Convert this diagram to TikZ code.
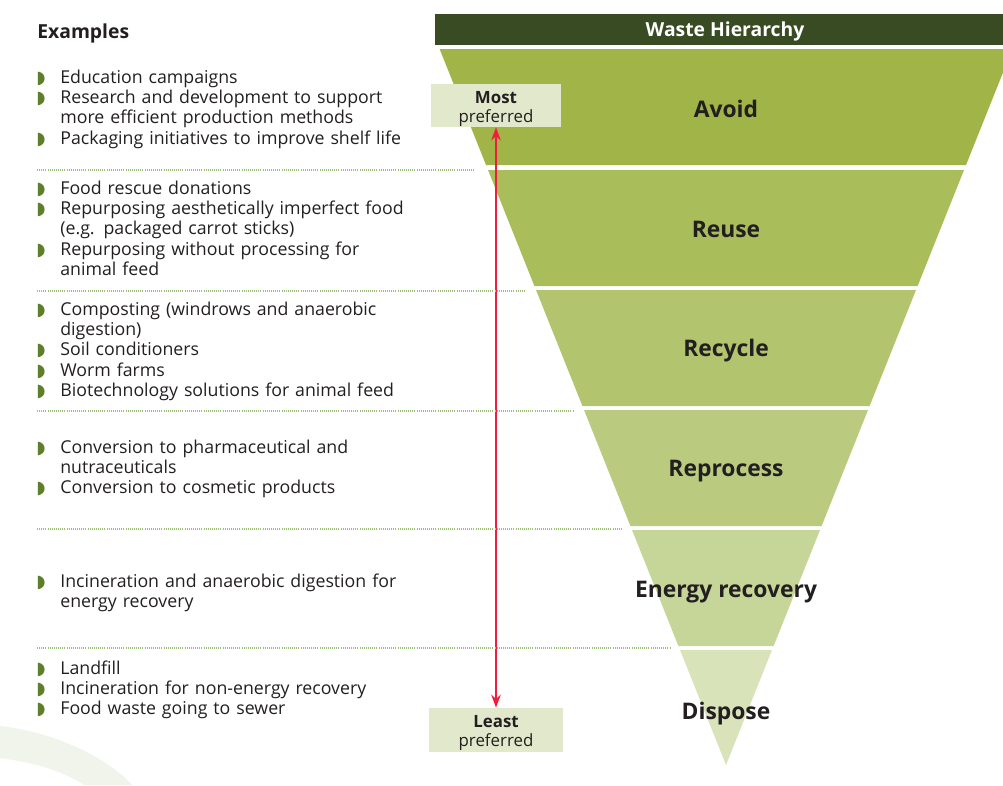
\documentclass[tikz,border=0pt]{standalone}
\usepackage{fontspec}
\setmainfont{Open Sans}
\newfontfamily\symfont{DejaVu Sans}
\usetikzlibrary{arrows.meta}

\definecolor{barc}{HTML}{384B22}
\definecolor{avoidc}{HTML}{A0B447}
\definecolor{reusec}{HTML}{A9BD5B}
\definecolor{recyclec}{HTML}{B2C46E}
\definecolor{reprocessc}{HTML}{BACB80}
\definecolor{energyc}{HTML}{C6D598}
\definecolor{disposec}{HTML}{D9E3B9}
\definecolor{prefc}{HTML}{E2E8CB}
\definecolor{bulc}{HTML}{5E7F2A}
\definecolor{dotc}{HTML}{9DBF78}
\definecolor{arrowc}{HTML}{F01E3C}
\definecolor{leafc}{HTML}{F0F4EA}
\definecolor{inkc}{HTML}{231F20}

% green half-disc bullet and a hanging list line
\newcommand{\bul}{{\symfont\fontsize{10}{10}\selectfont\color{bulc}◗}}
\newcommand{\exitem}[1]{\par\hangindent=0.48cm\hangafter=1\noindent\makebox[0.48cm][l]{\bul}\strut#1\par}

\tikzset{
  bandlabel/.style={font=\fontsize{13}{15}\selectfont\bfseries, text=inkc},
  exlist/.style={anchor=north west, inner sep=0pt, text width=9cm, font=\fontsize{10.1}{11.5}\selectfont, text=inkc},
  prefbox/.style={fill=prefc, minimum width=2.6cm, minimum height=0.86cm, inner sep=0pt, align=center,
    font=\fontsize{9.6}{10.8}\selectfont, text=inkc},
  sepline/.style={dotc, line width=0.8pt, dash pattern=on 0.5pt off 0.7pt},
}

\begin{document}
\begin{tikzpicture}[x=0.02cm, y=-0.02cm]
  \useasboundingbox (0,0) rectangle (1003,785);
  \clip (0,0) rectangle (1003,785);

  % pale leaf in the corner
  \fill[leafc] (0,726) .. controls (55,732) and (108,758) .. (132,785) -- (84,785)
    .. controls (62,770) and (30,762) .. (0,758) -- cycle;

  % header
  \fill[barc] (435,14) rectangle (1010,45);
  \node[text=white, font=\fontsize{11}{13}\selectfont\bfseries] (title) at (725,31) {Waste Hierarchy};

  % the inverted pyramid, one band per level
  \fill[avoidc]     (439.6,49) -- (1012.4,49) -- (966,165) -- (486,165) -- cycle;
  \fill[reusec]     (488,170) -- (964,170) -- (917.6,286) -- (534.4,286) -- cycle;
  \fill[recyclec]   (536,290) -- (916,290) -- (869.6,406) -- (582.4,406) -- cycle;
  \fill[reprocessc] (584,410) -- (868,410) -- (821.6,526) -- (630.4,526) -- cycle;
  \fill[energyc]    (632,530) -- (820,530) -- (773.6,646) -- (678.4,646) -- cycle;
  \fill[disposec]   (680,650) -- (772,650) -- (726,765) -- cycle;

  \node[bandlabel] (avoid) at (726,109) {Avoid};
  \node[bandlabel] (reuse) at (726,229) {Reuse};
  \node[bandlabel] (recycle) at (726,351) {Recycle};
  \node[bandlabel] (reprocess) at (726,471) {Reprocess};
  \node[bandlabel] (energy) at (726,592) {Energy recovery};
  \node[bandlabel] (dispose) at (726,714) {Dispose};

  % preference scale
  \node[prefbox] (most) at (496,105.5) {\rule{0pt}{10.5pt}\textbf{Most}\\preferred};
  \node[prefbox, minimum width=2.68cm, minimum height=0.88cm] (least) at (496,730) {\rule{0pt}{10.5pt}\textbf{Least}\\preferred};
  \draw[arrowc, line width=1.1pt, {Stealth[length=2.6mm,width=1.9mm]}-{Stealth[length=2.6mm,width=1.9mm]}]
    (most) -- (least);

  % examples column
  \node[anchor=west, inner sep=0pt, text=inkc, font=\fontsize{11}{13}\selectfont\bfseries] (examples) at (37,33) {Examples};

  \node[exlist] (exavoid) at (36,63) {%
    \exitem{Education campaigns}
    \exitem{Research and development to support\newline more efficient production methods}
    \exitem{Packaging initiatives to improve shelf life}};
  \draw[sepline] (37,170) -- (475,170);

  \node[exlist] (exreuse) at (36,174) {%
    \exitem{Food rescue donations}
    \exitem{Repurposing aesthetically imperfect food\newline (e.g. packaged carrot sticks)}
    \exitem{Repurposing without processing for\newline animal feed}};
  \draw[sepline] (37,291) -- (525,291);

  \node[exlist] (exrecycle) at (36,295) {%
    \exitem{Composting (windrows and anaerobic\newline digestion)}
    \exitem{Soil conditioners}
    \exitem{Worm farms}
    \exitem{Biotechnology solutions for animal feed}};
  \draw[sepline] (37,411) -- (573,411);

  \node[exlist] (exreprocess) at (36,433) {%
    \exitem{Conversion to pharmaceutical and\newline nutraceuticals}
    \exitem{Conversion to cosmetic products}};
  \draw[sepline] (37,529) -- (622,529);

  \node[exlist] (exenergy) at (36,567) {%
    \exitem{Incineration and anaerobic digestion for\newline energy recovery}};
  \draw[sepline] (37,648) -- (670,648);

  \node[exlist] (exdispose) at (36,654) {%
    \exitem{Landfill}
    \exitem{Incineration for non-energy recovery}
    \exitem{Food waste going to sewer}};
\end{tikzpicture}
\end{document}
